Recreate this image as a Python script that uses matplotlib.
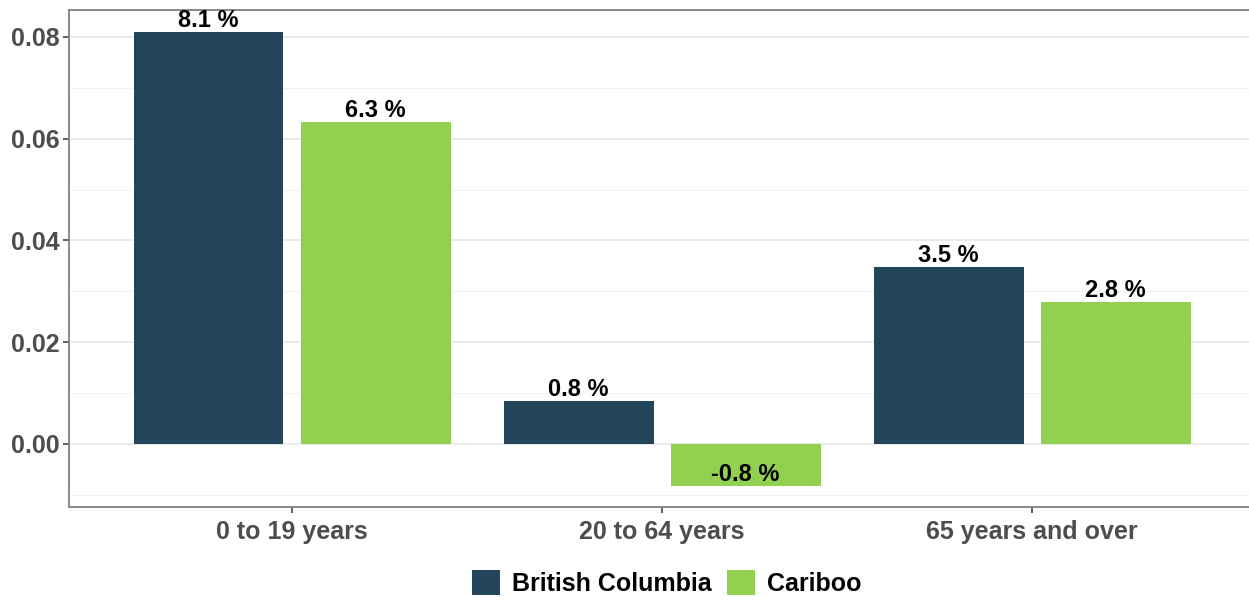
# population change by age group, BC vs Cariboo

import numpy as np
import matplotlib.pyplot as plt
from matplotlib.patches import Patch
from matplotlib.ticker import MultipleLocator

plt.rcParams['font.family'] = ['Liberation Sans', 'DejaVu Sans']
plt.rcParams['font.weight'] = 'bold'

age_groups = ['0 to 19 years', '20 to 64 years', '65 years and over']
regions    = ['British Columbia', 'Cariboo']
bc_change  = [0.081, 0.0084, 0.0347]
car_change = [0.0633, -0.0082, 0.0279]
colors     = ['#23455a', '#92d050']

fig = plt.figure(figsize=(12.49, 6.01), dpi=100)
ax = fig.add_axes([0.0552, 0.1564, 0.9448, 0.827])

x = np.arange(len(age_groups))
width = 0.405
off = 0.2257
for vals, dx, c in [(bc_change, -off, colors[0]), (car_change, off, colors[1])]:
    bars = ax.bar(x + dx, vals, width=width, color=c, zorder=3)
    for b, v in zip(bars, vals):
        ax.text(b.get_x() + b.get_width()/2, v, '%.1f %%' % (v*100),
                ha='center', va='bottom', fontsize=17, fontweight='bold',
                color='black', zorder=4)

ax.set_xlim(-0.603, 2.586)
ax.set_ylim(-0.0124, 0.0853)
ax.yaxis.set_major_locator(MultipleLocator(0.02))
ax.yaxis.set_minor_locator(MultipleLocator(0.01))
ax.yaxis.set_major_formatter(lambda v, p: '%.2f' % v)
ax.set_xticks(x)
ax.set_xticklabels(age_groups)

ax.grid(axis='y', which='major', color='#e6e6e6', linewidth=1.2, zorder=0)
ax.grid(axis='y', which='minor', color='#f0f0f0', linewidth=0.8, zorder=0)
ax.tick_params(axis='both', which='major', labelsize=18, labelcolor='#4d4d4d',
               color='#333333', length=4, width=1.1, pad=3)
ax.tick_params(axis='x', which='major', pad=5)
ax.tick_params(axis='y', which='minor', length=0)
for lab in ax.get_xticklabels() + ax.get_yticklabels():
    lab.set_fontweight('bold')

for s in ['left', 'bottom', 'top']:
    ax.spines[s].set_color('#808080')
    ax.spines[s].set_linewidth(1.3)
ax.spines['right'].set_visible(False)

handles = [Patch(facecolor=c, edgecolor='none') for c in colors]
fig.legend(handles, regions, loc='center', bbox_to_anchor=(667/1249, 0.03),
           ncol=2, frameon=False, handlelength=1.1,
           handleheight=1.2, handletextpad=0.5, columnspacing=0.6,
           prop={'weight': 'bold', 'size': 18})

plt.savefig('out.png', dpi=100)
